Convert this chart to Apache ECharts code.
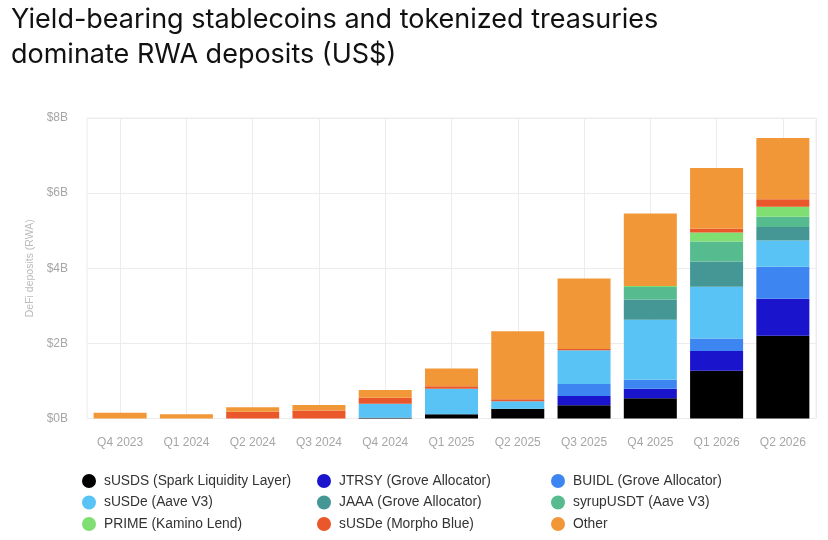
<!DOCTYPE html>
<html>
<head>
<meta charset="utf-8">
<script src="https://cdn.jsdelivr.net/npm/echarts@6/dist/echarts.min.js"></script>
<style>
html,body{margin:0;padding:0;background:#fff;}
#chart{width:828px;height:540px;}
</style>
</head>
<body>
<div id="chart"></div>
<script>
var categories = ['Q4 2023','Q1 2024','Q2 2024','Q3 2024','Q4 2024','Q1 2025','Q2 2025','Q3 2025','Q4 2025','Q1 2026','Q2 2026'];
var yTicks = ['$0B','$2B','$4B','$6B','$8B'];

var sUSDS       = [0, 0, 0, 0, 0.02, 0.11, 0.26, 0.35, 0.54, 1.27, 2.20];
var JTRSY       = [0, 0, 0, 0, 0, 0, 0, 0.25, 0.25, 0.53, 0.99];
var BUIDL       = [0, 0, 0, 0, 0, 0, 0, 0.32, 0.24, 0.33, 0.85];
var sUSDeAave   = [0, 0, 0, 0, 0.37, 0.68, 0.20, 0.90, 1.60, 1.38, 0.70];
var JAAA        = [0, 0, 0, 0, 0, 0, 0, 0, 0.54, 0.67, 0.36];
var syrupUSDT   = [0, 0, 0, 0, 0, 0, 0, 0, 0.33, 0.53, 0.27];
var PRIME       = [0, 0, 0, 0, 0, 0, 0, 0, 0.03, 0.24, 0.27];
var sUSDeMorpho = [0, 0, 0.18, 0.21, 0.16, 0.07, 0.05, 0.03, 0, 0.10, 0.20];
var Other       = [0.15, 0.11, 0.12, 0.15, 0.21, 0.47, 1.81, 1.88, 1.93, 1.62, 1.63];

var seriesDefs = [
  {name:'sUSDS (Spark Liquidity Layer)', data:sUSDS, color:'#000000'},
  {name:'JTRSY (Grove Allocator)', data:JTRSY, color:'#1a14cc'},
  {name:'BUIDL (Grove Allocator)', data:BUIDL, color:'#3d86f2'},
  {name:'sUSDe (Aave V3)', data:sUSDeAave, color:'#5ac3f5'},
  {name:'JAAA (Grove Allocator)', data:JAAA, color:'#449795'},
  {name:'syrupUSDT (Aave V3)', data:syrupUSDT, color:'#56bc90'},
  {name:'PRIME (Kamino Lend)', data:PRIME, color:'#7fdf72'},
  {name:'sUSDe (Morpho Blue)', data:sUSDeMorpho, color:'#e9572a'},
  {name:'Other', data:Other, color:'#f29738'}
];

var gridHelper = [];
for (var i = 0; i < categories.length * 2; i++) gridHelper.push('');

var legendText = {color:'#333', fontSize:13.8, fontFamily:'Liberation Sans, Arial, sans-serif', padding:[0,0,0,3]};
function legend(left, names){
  return {orient:'vertical', left:left, top:474, height:60, padding:0, itemWidth:14, itemHeight:14, itemGap:7.5,
    icon:'circle', textStyle:legendText, data:names, selectedMode:false};
}

var chart = echarts.init(document.getElementById('chart'), null, {renderer:'canvas'});
chart.setOption({
  animation:false,
  backgroundColor:'#fff',
  title:{
    text:'Yield-bearing stablecoins and tokenized treasuries\ndominate RWA deposits (US$)',
    left:6, top:-3,
    textStyle:{fontFamily:'Inter, sans-serif', fontSize:27, fontWeight:'normal', color:'#111', lineHeight:35}
  },
  legend:[
    legend(82, [seriesDefs[0].name, seriesDefs[3].name, seriesDefs[6].name]),
    legend(317, [seriesDefs[1].name, seriesDefs[4].name, seriesDefs[7].name]),
    legend(551, [seriesDefs[2].name, seriesDefs[5].name, seriesDefs[8].name])
  ],
  grid:{left:87, right:12, top:118, bottom:121.5, show:true, borderColor:'#ececec', borderWidth:1},
  xAxis:[{
    type:'category', data:categories, boundaryGap:true,
    axisLine:{show:false}, axisTick:{show:false}, splitLine:{show:false},
    axisLabel:{color:'#a6a6a6', fontSize:12, margin:18, fontFamily:'Liberation Sans, Arial, sans-serif'}
  },{
    type:'category', data:gridHelper, boundaryGap:true, position:'bottom',
    axisLine:{show:false}, axisTick:{show:false}, axisLabel:{show:false},
    splitLine:{show:true, interval:function(idx){return idx % 2 === 1;}, lineStyle:{color:'#ececec', width:1}}
  }],
  yAxis:{
    type:'value', min:0, max:8, interval:2,
    name:'DeFi deposits (RWA)', nameLocation:'middle', nameGap:45, nameRotate:90,
    nameTextStyle:{color:'#bbbbbb', fontSize:10.5, fontFamily:'Liberation Sans, Arial, sans-serif'},
    axisLine:{show:false}, axisTick:{show:false},
    splitLine:{show:true, lineStyle:{color:'#ececec', width:1}},
    axisLabel:{color:'#a6a6a6', fontSize:12, margin:19, fontFamily:'Liberation Sans, Arial, sans-serif',
      formatter:function(v){ return yTicks[Math.round(v/2)]; }}
  },
  series: seriesDefs.map(function(s){
    return {name:s.name, type:'bar', stack:'total', data:s.data, barCategoryGap:'20%',
      itemStyle:{color:s.color}, emphasis:{disabled:true}};
  })
});
</script>
</body>
</html>
